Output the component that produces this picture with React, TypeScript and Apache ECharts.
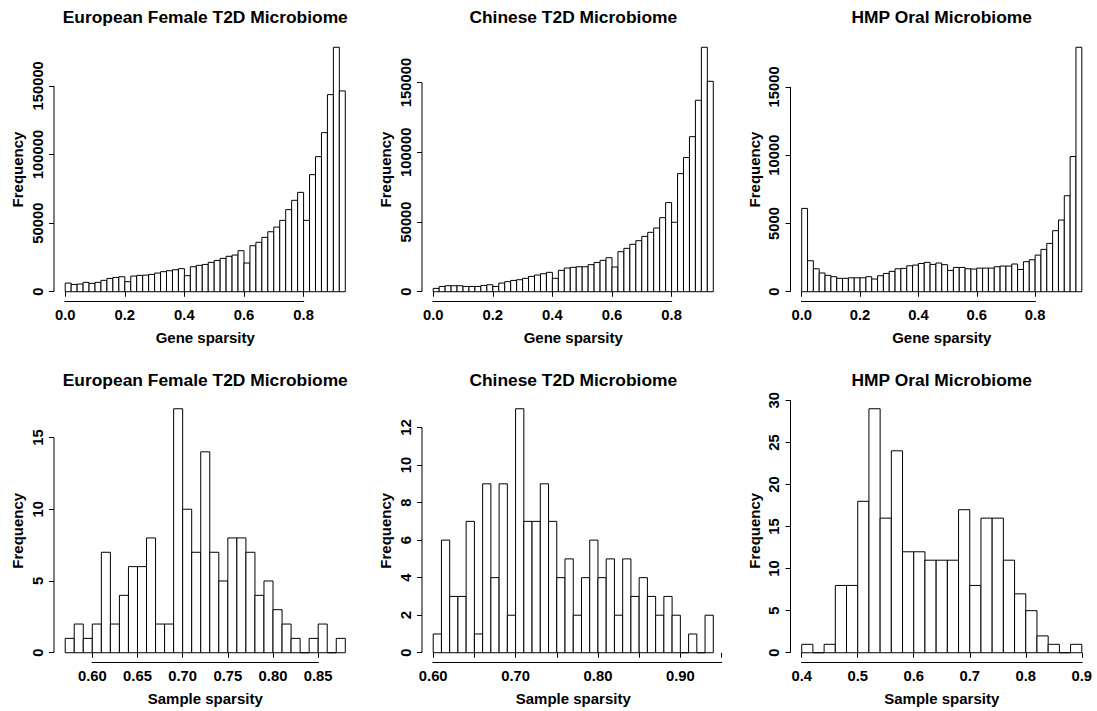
import React, { useEffect, useRef } from "react";
import * as echarts from "echarts";

const FONT = '"Liberation Sans", Arial, Helvetica, sans-serif';

// ---- Gene sparsity histograms (bin width 0.02, first bin starts at 0) ----
const geneBinStart = 0;
const geneBinWidth = 0.02;

const euroGeneCounts = [
  6300, 5300, 5600, 6800, 6100, 6800, 8300, 9700, 10400, 10900,
  7300, 11400, 11900, 12100, 12600, 13600, 14600, 15300, 16000, 16800,
  11700, 18200, 19200, 19900, 21400, 22800, 24300, 25800, 26700, 29900,
  20900, 33500, 36000, 39600, 43700, 47100, 52000, 59800, 66600, 72400,
  52000, 85300, 98400, 115900, 143600, 178100, 146300,
];

const chinaGeneCounts = [
  2400, 3800, 4300, 4300, 4300, 3800, 3800, 3800, 4500, 5000,
  3800, 6200, 7200, 8100, 8600, 9600, 11000, 12000, 12900, 13900,
  9600, 15300, 17000, 17500, 17900, 17900, 19400, 21000, 22500, 24400,
  17700, 28700, 31100, 34000, 36600, 39700, 42600, 45700, 53100, 63900,
  49800, 84700, 96200, 111200, 137300, 175300, 150900,
];

const hmpGeneCounts = [
  6100, 2270, 1680, 1370, 1200, 1100, 980, 980, 1020, 1020,
  1020, 1100, 930, 1170, 1340, 1490, 1680, 1710, 1900, 1950,
  2070, 2150, 2000, 2100, 1980, 1560, 1780, 1780, 1680, 1660,
  1730, 1730, 1730, 1830, 1880, 1880, 2030, 1630, 2200, 2340,
  2680, 3100, 3540, 4470, 5250, 7030, 9900, 17900,
];

// ---- Sample sparsity histograms ----
const euroSampleStart = 0.57;
const euroSampleWidth = 0.01;
const euroSampleCounts = [
  1, 2, 1, 2, 7, 2, 4, 6, 6, 8, 2, 2, 17, 10, 7, 14, 7, 5, 8, 8,
  7, 4, 5, 3, 2, 1, 0, 1, 2, 0, 1,
];

const chinaSampleStart = 0.6;
const chinaSampleWidth = 0.01;
const chinaSampleCounts = [
  1, 6, 3, 3, 7, 1, 9, 4, 9, 2, 13, 7, 7, 9, 7, 4, 5, 2, 4, 6,
  4, 5, 2, 5, 3, 4, 3, 2, 3, 2, 0, 1, 0, 2,
];

const hmpSampleStart = 0.4;
const hmpSampleWidth = 0.02;
const hmpSampleCounts = [
  1, 0, 1, 8, 8, 18, 29, 16, 24, 12, 12, 11, 11, 11, 17, 8, 16, 16, 11, 7,
  5, 2, 1, 0, 1,
];

// ---- Titles and axis ticks ----
const titles = [
  "European Female T2D Microbiome",
  "Chinese T2D Microbiome",
  "HMP Oral Microbiome",
];

const geneXTicks = [0, 0.2, 0.4, 0.6, 0.8];
const bigYTicks = [0, 50000, 100000, 150000];
const hmpGeneYTicks = [0, 5000, 10000, 15000];

const euroSampleXTicks = [0.6, 0.65, 0.7, 0.75, 0.8, 0.85];
const euroSampleYTicks = [0, 5, 10, 15];
const chinaSampleXTicks = [0.6, 0.65, 0.7, 0.75, 0.8, 0.85, 0.9, 0.95];
const chinaSampleXLabels = [0.6, 0.7, 0.8, 0.9];
const chinaSampleYTicks = [0, 2, 4, 6, 8, 10, 12];
const hmpSampleXTicks = [0.4, 0.5, 0.6, 0.7, 0.8, 0.9];
const hmpSampleYTicks = [0, 5, 10, 15, 20, 25, 30];

type Panel = {
  title: string;
  xName: string;
  start: number;
  width: number;
  counts: number[];
  xTicks: number[];
  xLabels: number[];
  xDigits: number;
  yTicks: number[];
};

const panels: Panel[] = [
  { title: titles[0], xName: "Gene sparsity", start: geneBinStart, width: geneBinWidth, counts: euroGeneCounts, xTicks: geneXTicks, xLabels: geneXTicks, xDigits: 1, yTicks: bigYTicks },
  { title: titles[1], xName: "Gene sparsity", start: geneBinStart, width: geneBinWidth, counts: chinaGeneCounts, xTicks: geneXTicks, xLabels: geneXTicks, xDigits: 1, yTicks: bigYTicks },
  { title: titles[2], xName: "Gene sparsity", start: geneBinStart, width: geneBinWidth, counts: hmpGeneCounts, xTicks: geneXTicks, xLabels: geneXTicks, xDigits: 1, yTicks: hmpGeneYTicks },
  { title: titles[0], xName: "Sample sparsity", start: euroSampleStart, width: euroSampleWidth, counts: euroSampleCounts, xTicks: euroSampleXTicks, xLabels: euroSampleXTicks, xDigits: 2, yTicks: euroSampleYTicks },
  { title: titles[1], xName: "Sample sparsity", start: chinaSampleStart, width: chinaSampleWidth, counts: chinaSampleCounts, xTicks: chinaSampleXTicks, xLabels: chinaSampleXLabels, xDigits: 2, yTicks: chinaSampleYTicks },
  { title: titles[2], xName: "Sample sparsity", start: hmpSampleStart, width: hmpSampleWidth, counts: hmpSampleCounts, xTicks: hmpSampleXTicks, xLabels: hmpSampleXTicks, xDigits: 1, yTicks: hmpSampleYTicks },
];

// plot-region layout (pixels)
const colLeft = [54, 422, 790.5];
const plotWidth = 302.5;
const rowTop = [37.5, 399];
const plotHeight = [264, 263.5];
const titleY = [16.5, 379.5];

const TICK_FONT = 14.8;
const NAME_FONT = 15;
const TITLE_FONT = 17.4;

function extents(p: Panel) {
  const lo = p.start;
  const hi = p.start + p.counts.length * p.width;
  const xPad = 0.04 * (hi - lo);
  const yTop = Math.max(...p.counts);
  return {
    xMin: lo - xPad,
    xMax: hi + xPad,
    yMin: -0.04 * yTop,
    yMax: 1.04 * yTop,
  };
}

function titleGraphics() {
  return panels.map((p, i) => {
    const row = Math.floor(i / 3);
    const col = i % 3;
    return {
      type: "text",
      id: `title-${i}`,
      x: colLeft[col] + plotWidth / 2,
      y: titleY[row],
      style: {
        text: p.title,
        fill: "#000",
        font: `bold ${TITLE_FONT}px ${FONT}`,
        textAlign: "center",
        textVerticalAlign: "middle",
      },
    };
  });
}

function buildOption() {
  const grid: any[] = [];
  const xAxis: any[] = [];
  const yAxis: any[] = [];
  const series: any[] = [];

  panels.forEach((p, i) => {
    const row = Math.floor(i / 3);
    const col = i % 3;
    const { xMin, xMax, yMin, yMax } = extents(p);

    grid.push({
      left: colLeft[col],
      top: rowTop[row],
      width: plotWidth,
      height: plotHeight[row],
      containLabel: false,
    });

    xAxis.push({
      type: "value",
      gridIndex: i,
      min: xMin,
      max: xMax,
      axisLine: { show: false },
      splitLine: { show: false },
      axisTick: {
        show: true,
        length: 5,
        customValues: p.xTicks,
        lineStyle: { color: "#000", width: 1 },
      },
      axisLabel: {
        customValues: p.xLabels,
        formatter: (v: number) => v.toFixed(p.xDigits),
        margin: 6,
        color: "#000",
        fontFamily: FONT,
        fontWeight: "bold",
        fontSize: TICK_FONT,
        hideOverlap: false,
      },
      name: p.xName,
      nameLocation: "middle",
      nameGap: 28,
      nameTextStyle: {
        color: "#000",
        fontFamily: FONT,
        fontWeight: "bold",
        fontSize: NAME_FONT,
      },
    });

    yAxis.push({
      type: "value",
      gridIndex: i,
      min: yMin,
      max: yMax,
      axisLine: { show: false, onZero: false },
      splitLine: { show: false },
      axisTick: {
        show: true,
        length: 5,
        customValues: p.yTicks,
        lineStyle: { color: "#000", width: 1 },
      },
      axisLabel: {
        customValues: p.yTicks,
        formatter: (v: number) => String(Math.round(v)),
        rotate: 90,
        margin: 9,
        color: "#000",
        fontFamily: FONT,
        fontWeight: "bold",
        fontSize: TICK_FONT,
        hideOverlap: false,
      },
      name: "Frequency",
      nameLocation: "middle",
      nameRotate: 90,
      nameGap: 29,
      nameTextStyle: {
        color: "#000",
        fontFamily: FONT,
        fontWeight: "bold",
        fontSize: NAME_FONT,
      },
    });

    // histogram bars: [left edge, right edge, count]
    const bins = p.counts.map((c, k) => [
      p.start + k * p.width,
      p.start + (k + 1) * p.width,
      c,
    ]);

    series.push({
      type: "custom",
      xAxisIndex: i,
      yAxisIndex: i,
      clip: false,
      data: bins,
      encode: { x: [0, 1], y: 2 },
      renderItem: (_params: any, api: any) => {
        const tl = api.coord([api.value(0), api.value(2)]);
        const br = api.coord([api.value(1), 0]);
        return {
          type: "rect",
          shape: {
            x: tl[0],
            y: tl[1],
            width: br[0] - tl[0],
            height: br[1] - tl[1],
          },
          style: { fill: "#fff", stroke: "#000", lineWidth: 1 },
        };
      },
    });

    // x axis line (first to last tick) along the bottom of the plot region
    series.push({
      type: "custom",
      xAxisIndex: i,
      yAxisIndex: i,
      clip: false,
      silent: true,
      z: 50,
      data: [[p.xTicks[0], p.xTicks[p.xTicks.length - 1], yMin]],
      renderItem: (_params: any, api: any) => {
        const a = api.coord([api.value(0), api.value(2)]);
        const b = api.coord([api.value(1), api.value(2)]);
        return {
          type: "rect",
          shape: { x: a[0] - 0.5, y: a[1] - 0.5, width: b[0] - a[0] + 1, height: 1 },
          style: { fill: "#000" },
        };
      },
    });
  });

  return {
    animation: false,
    backgroundColor: "#fff",
    grid,
    xAxis,
    yAxis,
    series,
    graphic: titleGraphics(),
  };
}

// axis lines running from the first to the last tick, placed with the chart's own scales
function axisLines(chart: echarts.ECharts) {
  const out: any[] = [];
  panels.forEach((p, i) => {
    const { xMin, yMin } = extents(p);
    const toPx = (v: number[]) =>
      chart.convertToPixel({ gridIndex: i }, v) as number[];
    const xa = toPx([p.xTicks[0], yMin]);
    const xb = toPx([p.xTicks[p.xTicks.length - 1], yMin]);
    const ya = toPx([xMin, p.yTicks[0]]);
    const yb = toPx([xMin, p.yTicks[p.yTicks.length - 1]]);
    out.push({
      type: "rect",
      id: `xline-${i}`,
      z: 100,
      shape: { x: xa[0] - 0.5, y: xa[1] - 0.5, width: xb[0] - xa[0] + 1, height: 1 },
      style: { fill: "#000" },
    });
    out.push({
      type: "line",
      id: `yline-${i}`,
      z: 100,
      shape: { x1: ya[0], y1: ya[1], x2: yb[0], y2: yb[1] },
      style: { stroke: "#000", lineWidth: 1 },
    });
  });
  return out;
}

export default function App() {
  const ref = useRef<HTMLDivElement>(null);

  useEffect(() => {
    if (!ref.current) return;
    const chart = echarts.init(ref.current, undefined, { renderer: "svg" });
    chart.setOption(buildOption());
    chart.setOption({ graphic: [...titleGraphics(), ...axisLines(chart)] });
    return () => chart.dispose();
  }, []);

  return (
    <div
      ref={ref}
      style={{
        position: "absolute",
        left: 0,
        top: 0,
        width: 1097,
        height: 711,
        background: "#fff",
      }}
    />
  );
}
